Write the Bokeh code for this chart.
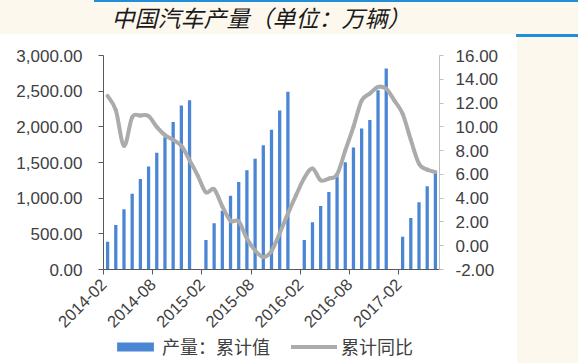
import math
from bokeh.plotting import figure
from bokeh.models import (Range1d, LinearAxis, FixedTicker, SingleIntervalTicker,
                          NumeralTickFormatter, Legend, LegendItem, Label)
from bokeh.embed import file_html
from bokeh.resources import INLINE

# ---------------- data ----------------
months = [
    "2014-02", "2014-03", "2014-04", "2014-05", "2014-06", "2014-07", "2014-08",
    "2014-09", "2014-10", "2014-11", "2014-12",
    "2015-01", "2015-02", "2015-03", "2015-04", "2015-05", "2015-06", "2015-07",
    "2015-08", "2015-09", "2015-10", "2015-11", "2015-12",
    "2016-01", "2016-02", "2016-03", "2016-04", "2016-05", "2016-06", "2016-07",
    "2016-08", "2016-09", "2016-10", "2016-11", "2016-12",
    "2017-01", "2017-02", "2017-03", "2017-04", "2017-05", "2017-06",
]
# 产量：累计值 (万辆), January not reported
production = [
    388, 623, 846, 1062, 1270, 1443, 1638, 1853, 2067, 2300, 2374,
    None, 412, 650, 823, 1034, 1226, 1390, 1554, 1741, 1959, 2229, 2492,
    None, 412, 661, 890, 1087, 1302, 1505, 1710, 1978, 2096, 2512, 2817,
    None, 458, 721, 942, 1167, 1373,
]
# 累计同比 (%)
yoy = [
    12.6, 11.4, 8.4, 10.8, 10.95, 10.9, 10.0, 9.3, 8.9, 8.4, 7.2,
    5.9, 4.5, 4.75, 3.3, 2.1, 2.05, 0.6, -0.4, -0.95, -0.45, 1.05, 2.7,
    4.25, 5.7, 6.5, 5.5, 5.65, 6.0, 8.0, 10.0, 12.2, 12.8, 13.35, 13.2,
    12.2, 11.1, 8.9, 6.9, 6.4, 6.2,
]
xtick_labels = ["2014-02", "2014-08", "2015-02", "2015-08", "2016-02", "2016-08", "2017-02"]

left_min, left_max, left_step = 0, 3000, 500
right_min, right_max, right_step = -2, 16, 2

title_text = "中国汽车产量（单位：万辆）"
bar_label = "产量：累计值"
line_label = "累计同比"

# ---------------- style / layout ----------------
CREAM = "#FDF8EE"
BLUE_BAR = "#4A86D4"
GRAY_LINE = "#ABABAB"
ACCENT = "#1E8FD8"
TXT = "#404040"

W, H = 578, 363
# chart area in canvas pixels (axes drawn at these edges)
AX_L, AX_R, AX_T, AX_B = 103, 439, 55, 269

n = len(months)
ppx = (AX_R - AX_L) / n
ppy = (AX_B - AX_T) / (left_max - left_min)
ppy2 = (AX_B - AX_T) / (right_max - right_min)

# the frame covers the whole canvas; ranges are set so the axes land on the chart area
x_range = Range1d(0 - AX_L / ppx, n + (W - AX_R) / ppx)
y_range = Range1d(left_min - (H - AX_B) / ppy, left_max + AX_T / ppy)
yoy_range = Range1d(right_min - (H - AX_B) / ppy2, right_max + AX_T / ppy2)

p = figure(width=W, height=H, output_backend="svg", toolbar_location=None,
           x_range=x_range, y_range=y_range,
           x_axis_type=None, y_axis_type=None, min_border=0)
p.title.visible = False
p.background_fill_color = None
p.border_fill_color = None
p.outline_line_color = None
p.xgrid.visible = False
p.ygrid.visible = False
p.extra_y_ranges = {"yoy": yoy_range}

# page decoration (cream page, white chart card, two blue rules)
p.styles = {
    "background-color": CREAM,
    "background-image": (f"linear-gradient({ACCENT}, {ACCENT}), "
                          f"linear-gradient({ACCENT}, {ACCENT}), "
                          "linear-gradient(#ffffff, #ffffff)"),
    "background-position": "94px 0px, 516px 34px, 0px 34px",
    "background-size": "484px 2px, 62px 3px, 517px 329px",
    "background-repeat": "no-repeat",
}

# ---------------- glyphs ----------------
bx = [i + 0.5 for i, v in enumerate(production) if v is not None]
btop = [v for v in production if v is not None]
bars = p.vbar(x=bx, top=btop, bottom=0, width=0.4,
              fill_color=BLUE_BAR, line_color=None)

lx = [i + 0.5 for i in range(n)]
# plain line renderer (kept for the legend entry); the drawn line is smoothed below
ln = p.line(lx, yoy, y_range_name="yoy", line_color=GRAY_LINE, line_width=4,
            line_join="round", line_cap="round", visible=False)

# smoothed rendering of the same points (Catmull-Rom -> cubic Bezier segments)
x0s, y0s, x1s, y1s, cx0s, cy0s, cx1s, cy1s = ([] for _ in range(8))
for i in range(n - 1):
    xa_, ya_ = lx[max(i - 1, 0)], yoy[max(i - 1, 0)]
    xb_, yb_ = lx[i], yoy[i]
    xc_, yc_ = lx[i + 1], yoy[i + 1]
    xd_, yd_ = lx[min(i + 2, n - 1)], yoy[min(i + 2, n - 1)]
    x0s.append(xb_); y0s.append(yb_)
    x1s.append(xc_); y1s.append(yc_)
    cx0s.append(xb_ + (xc_ - xa_) / 6); cy0s.append(yb_ + (yc_ - ya_) / 6)
    cx1s.append(xc_ - (xd_ - xb_) / 6); cy1s.append(yc_ - (yd_ - yb_) / 6)
p.bezier(x0=x0s, y0=y0s, x1=x1s, y1=y1s, cx0=cx0s, cy0=cy0s, cx1=cx1s, cy1=cy1s,
         y_range_name="yoy", line_color=GRAY_LINE, line_width=4, line_cap="round")

# ---------------- axes ----------------
def style_axis(ax, line_color, tick_out, standoff):
    ax.axis_line_color = line_color
    ax.major_tick_line_color = line_color
    ax.major_tick_out = tick_out
    ax.major_tick_in = 0
    ax.minor_tick_line_color = None
    ax.major_label_text_font = "Liberation Sans"
    ax.major_label_text_font_size = "17px"
    ax.major_label_text_color = TXT
    ax.major_label_standoff = standoff


yl = LinearAxis(ticker=SingleIntervalTicker(interval=left_step, num_minor_ticks=0),
                formatter=NumeralTickFormatter(format="0,0.00"),
                fixed_location=0, bounds=(left_min, left_max))
style_axis(yl, "#595959", 5, 16)
p.add_layout(yl, "left")

yr = LinearAxis(y_range_name="yoy",
                ticker=SingleIntervalTicker(interval=right_step, num_minor_ticks=0),
                formatter=NumeralTickFormatter(format="0.00"),
                fixed_location=n, bounds=(right_min, right_max))
style_axis(yr, "#BFBFBF", 4, 12)
p.add_layout(yr, "right")

xt = [months.index(lbl) for lbl in xtick_labels]
xa = LinearAxis(ticker=FixedTicker(ticks=xt),
                major_label_overrides={t: lbl for t, lbl in zip(xt, xtick_labels)},
                major_label_orientation=math.pi / 4,
                fixed_location=left_min, bounds=(0, n))
style_axis(xa, "#595959", 5, 7)
xa.major_label_text_font_size = "16.5px"
p.add_layout(xa, "below")

# ---------------- title ----------------
p.add_layout(Label(x=111, y=H - 16, x_units="screen", y_units="screen",
                   text=title_text, text_font="Noto Sans CJK SC",
                   text_font_style="italic", text_font_size="23px",
                   text_color="#1A1A1A", text_baseline="middle", text_align="left"))

# ---------------- legend ----------------
legend = Legend(items=[LegendItem(label=bar_label, renderers=[bars]),
                       LegendItem(label=line_label, renderers=[ln])],
                location=(112, H - 359), orientation="horizontal",
                glyph_width=46, glyph_height=11, label_height=22,
                label_standoff=4, spacing=21,
                padding=0, margin=0, border_line_color=None,
                background_fill_alpha=0,
                label_text_font="Noto Sans CJK SC", label_text_font_size="18px",
                label_text_color=TXT)
p.add_layout(legend)

open("out.html", "w").write(file_html(p, INLINE))
